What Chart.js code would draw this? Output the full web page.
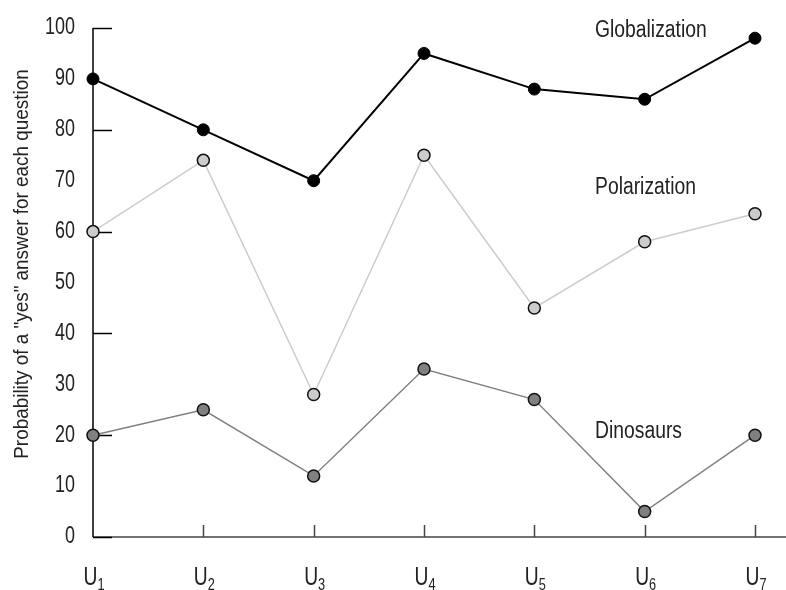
<!DOCTYPE html>
<html>
<head>
<meta charset="utf-8">
<script src="https://cdn.jsdelivr.net/npm/chart.js@4"></script>
<style>
  html, body { margin: 0; padding: 0; background: #fff; }
  #wrap { width: 786px; height: 590px; }
</style>
</head>
<body>
<div id="wrap"><canvas id="probChart" width="786" height="590"></canvas></div>
<script>
// data
const categories = ['U1', 'U2', 'U3', 'U4', 'U5', 'U6', 'U7'];
const globalization = [90, 80, 70, 95, 88, 86, 98];
const polarization = [60, 74, 28, 75, 45, 58, 63.5];
const dinosaurs = [20, 25, 12, 33, 27, 5, 20];
const seriesNames = ['Globalization', 'Polarization', 'Dinosaurs'];
const yTicks = [0, 10, 20, 30, 40, 50, 60, 70, 80, 90, 100];
const yMarkedTicks = [0, 20, 40, 60, 80, 100];
const yTitle = 'Probability of a "yes" answer for each question';

const FONT = "'Liberation Sans', Arial, sans-serif";

// where the series names sit, in data units (category index, value)
const nameSpots = [[4.55, 99.5], [4.55, 68.6], [4.55, 20.6]];

// condensed-looking text: squeeze horizontally
function squeezed(c, text, x, y, size, align, sx) {
    c.save();
    c.font = size + 'px ' + FONT;
    const w = c.measureText(text).width * sx;
    let left = x;
    if (align === 'right') left = x - w;
    if (align === 'center') left = x - w / 2;
    c.translate(left, y);
    c.scale(sx, 1);
    c.textAlign = 'left';
    c.fillText(text, 0, 0);
    c.restore();
    return w;
}

const axesPlugin = {
    id: 'axesPlugin',
    beforeDatasetsDraw(chart) {
        const c = chart.ctx, x = chart.scales.x, y = chart.scales.y;
        const area = chart.chartArea;
        c.save();
        // x axis (grey) with upward ticks
        c.strokeStyle = '#444';
        c.lineWidth = 1.5;
        c.beginPath();
        c.moveTo(area.left, area.bottom);
        c.lineTo(chart.width, area.bottom);
        c.stroke();
        for (let i = 1; i < categories.length; i++) {
            const px = Math.round(x.getPixelForValue(i)) + 0.5;
            c.beginPath();
            c.moveTo(px, area.bottom);
            c.lineTo(px, area.bottom - 12);
            c.stroke();
        }
        // y axis (black) with inward ticks
        c.strokeStyle = '#000';
        c.beginPath();
        c.moveTo(area.left, area.top);
        c.lineTo(area.left, area.bottom);
        c.stroke();
        yMarkedTicks.forEach(v => {
            const py = Math.round(y.getPixelForValue(v)) + 0.5;
            c.beginPath();
            c.moveTo(area.left, py);
            c.lineTo(area.left + 19, py);
            c.stroke();
        });
        c.restore();
    },
    afterDraw(chart) {
        const c = chart.ctx, x = chart.scales.x, y = chart.scales.y;
        const area = chart.chartArea;
        c.save();
        c.fillStyle = '#222';
        c.textBaseline = 'middle';
        // y tick labels
        yTicks.forEach(v => {
            squeezed(c, String(v), area.left - 18, y.getPixelForValue(v), 23, 'right', 0.78);
        });
        // category labels with subscripts
        c.textBaseline = 'alphabetic';
        categories.forEach((lab, i) => {
            const main = lab.charAt(0), sub = lab.slice(1);
            c.font = '26px ' + FONT;
            const wMain = c.measureText(main).width * 0.74;
            c.font = '17px ' + FONT;
            const wSub = c.measureText(sub).width * 0.75;
            const px = x.getPixelForValue(i) - (wMain + wSub) / 2 + 1;
            squeezed(c, main, px, 585, 26, 'left', 0.74);
            squeezed(c, sub, px + wMain, 590, 17, 'left', 0.75);
        });
        // series names
        c.textBaseline = 'middle';
        seriesNames.forEach((name, i) => {
            squeezed(c, name, x.getPixelForValue(nameSpots[i][0]), y.getPixelForValue(nameSpots[i][1]), 23, 'left', 0.84);
        });
        // y title
        c.translate(22, 264);
        c.rotate(-Math.PI / 2);
        squeezed(c, yTitle, 0, 0, 21, 'center', 0.9);
        c.restore();
    }
};

const ctx = document.getElementById('probChart').getContext('2d');
const probChart = new Chart(ctx, {
    type: 'line',
    data: {
        labels: categories,
        datasets: [{
            label: seriesNames[0],
            data: globalization,
            borderColor: '#000',
            borderWidth: 2,
            pointRadius: 6,
            pointBackgroundColor: '#000',
            pointBorderColor: '#000',
            pointBorderWidth: 1
        }, {
            label: seriesNames[1],
            data: polarization,
            borderColor: '#cccccc',
            borderWidth: 1.5,
            pointRadius: 6,
            pointBackgroundColor: '#cccccc',
            pointBorderColor: '#111',
            pointBorderWidth: 1.5
        }, {
            label: seriesNames[2],
            data: dinosaurs,
            borderColor: '#808080',
            borderWidth: 1.5,
            pointRadius: 6,
            pointBackgroundColor: '#808080',
            pointBorderColor: '#111',
            pointBorderWidth: 1.5
        }]
    },
    options: {
        responsive: false,
        animation: false,
        layout: { padding: { left: 0, right: 31, top: 28, bottom: 0 } },
        plugins: {
            legend: { display: false },
            tooltip: { enabled: false }
        },
        scales: {
            x: {
                type: 'category',
                offset: false,
                grid: { display: false },
                border: { display: false },
                ticks: { display: false },
                afterFit: (s) => { s.height = 53; }
            },
            y: {
                min: 0,
                max: 100,
                grid: { display: false },
                border: { display: false },
                ticks: { display: false },
                afterFit: (s) => { s.width = 93; },
                afterBuildTicks: (s) => { s.ticks = yTicks.map(v => ({ value: v })); }
            }
        }
    },
    plugins: [axesPlugin]
});
</script>
</body>
</html>
